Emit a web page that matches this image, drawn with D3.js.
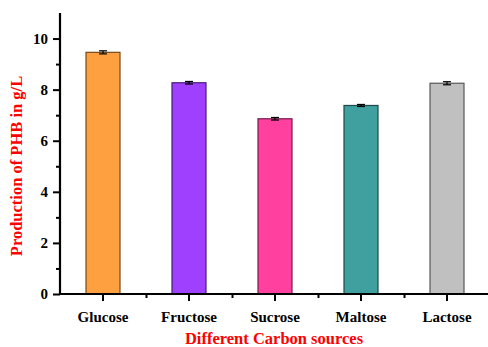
<!DOCTYPE html>
<meta charset="utf-8">
<head>
  <style>
    body { margin: 0; background: #fff; }
    .tick text { font-family: "Liberation Serif", "Times New Roman", serif; font-weight: bold; font-size: 15px; fill: #000; }
    .axis-title { font-family: "Liberation Serif", "Times New Roman", serif; font-weight: bold; font-size: 16.5px; fill: #FF0000; }
  </style>
</head>
<script src="https://d3js.org/d3.v7.min.js"></script>
<div id="my_dataviz"></div>
<script>
const WIDTH = 488;
const HEIGHT = 347;

// data
var sources = ["Glucose", "Fructose", "Sucrose", "Maltose", "Lactose"];
var phb = [9.46, 8.27, 6.86, 7.38, 8.25];
var errs = [0.06, 0.05, 0.05, 0.04, 0.06];
var colors = ["#FFA040", "#A040FF", "#FF409F", "#40A0A0", "#C0C0C0"];
var yTicks = [0, 2, 4, 6, 8, 10];

// plot edges ("top" is taken by window.top)
var PLOT_L = 60, PLOT_R = 490, PLOT_T = 13, PLOT_B = 294;

var svg = d3.select("#my_dataviz")
  .append("svg")
  .attr("width", WIDTH)
  .attr("height", HEIGHT);

var x = d3.scaleBand().domain(sources).range([PLOT_L, PLOT_R]);
var cx = d => x(d) + x.bandwidth() / 2;

var y = d3.scaleLinear()
  .domain([0, 11])
  .range([PLOT_B, PLOT_T]);

// bars
svg.selectAll(".bar")
  .data(sources)
  .enter()
  .append("rect")
  .attr("class", "bar")
  .attr("x", d => cx(d) - 17)
  .attr("width", 34)
  .attr("y", (d, i) => y(phb[i]))
  .attr("height", (d, i) => y(0) - y(phb[i]))
  .attr("fill", (d, i) => colors[i])
  .attr("stroke", (d, i) => d3.color(colors[i]).darker(2.2))
  .attr("stroke-width", 1.2);

// error bars
var eb = svg.selectAll(".err")
  .data(sources)
  .enter()
  .append("g")
  .attr("class", "err")
  .attr("stroke", "#000")
  .attr("stroke-width", 1.2);
eb.append("line")
  .attr("x1", cx)
  .attr("x2", cx)
  .attr("y1", (d, i) => y(phb[i] + errs[i]))
  .attr("y2", (d, i) => y(phb[i] - errs[i]));
[1, -1].forEach(function(s) {
  eb.append("line")
    .attr("x1", d => cx(d) - 4)
    .attr("x2", d => cx(d) + 4)
    .attr("y1", (d, i) => y(phb[i] + s * errs[i]))
    .attr("y2", (d, i) => y(phb[i] + s * errs[i]));
});

// y axis
var yAxis = svg.append("g")
  .attr("transform", `translate(${PLOT_L},0)`)
  .call(d3.axisLeft(y).tickValues(yTicks).tickSize(7).tickPadding(5).tickFormat(d3.format("d")));
svg.append("g")
  .attr("transform", `translate(${PLOT_L},0)`)
  .call(d3.axisLeft(y).tickValues(d3.range(1, 11, 2)).tickSize(4).tickFormat(""))
  .call(g => g.select(".domain").remove());

// x axis
var xAxis = svg.append("g")
  .attr("transform", `translate(0,${PLOT_B})`)
  .call(d3.axisBottom(x).tickSize(7).tickPadding(10).tickSizeOuter(0));
svg.append("g")
  .attr("transform", `translate(0,${PLOT_B})`)
  .call(d3.axisBottom(d3.scalePoint().domain(d3.range(1, 5)).range([x(sources[1]), x(sources[4])])).tickSize(4).tickFormat(""))
  .call(g => g.select(".domain").remove());

svg.selectAll(".domain").attr("stroke", "#000").attr("stroke-width", 2.2);
svg.selectAll(".tick line").attr("stroke", "#000").attr("stroke-width", 2);
yAxis.select(".domain").attr("d", `M0,${PLOT_T}V${PLOT_B}`);
xAxis.select(".domain").attr("d", `M${PLOT_L},0H${PLOT_R}`);

// titles
svg.append("text")
  .attr("class", "axis-title")
  .attr("text-anchor", "middle")
  .attr("x", 274)
  .attr("y", 344)
  .text("Different Carbon sources");

svg.append("text")
  .attr("class", "axis-title")
  .attr("text-anchor", "middle")
  .attr("transform", "translate(22,166) rotate(-90)")
  .text("Production of PHB in g/L");
</script>
